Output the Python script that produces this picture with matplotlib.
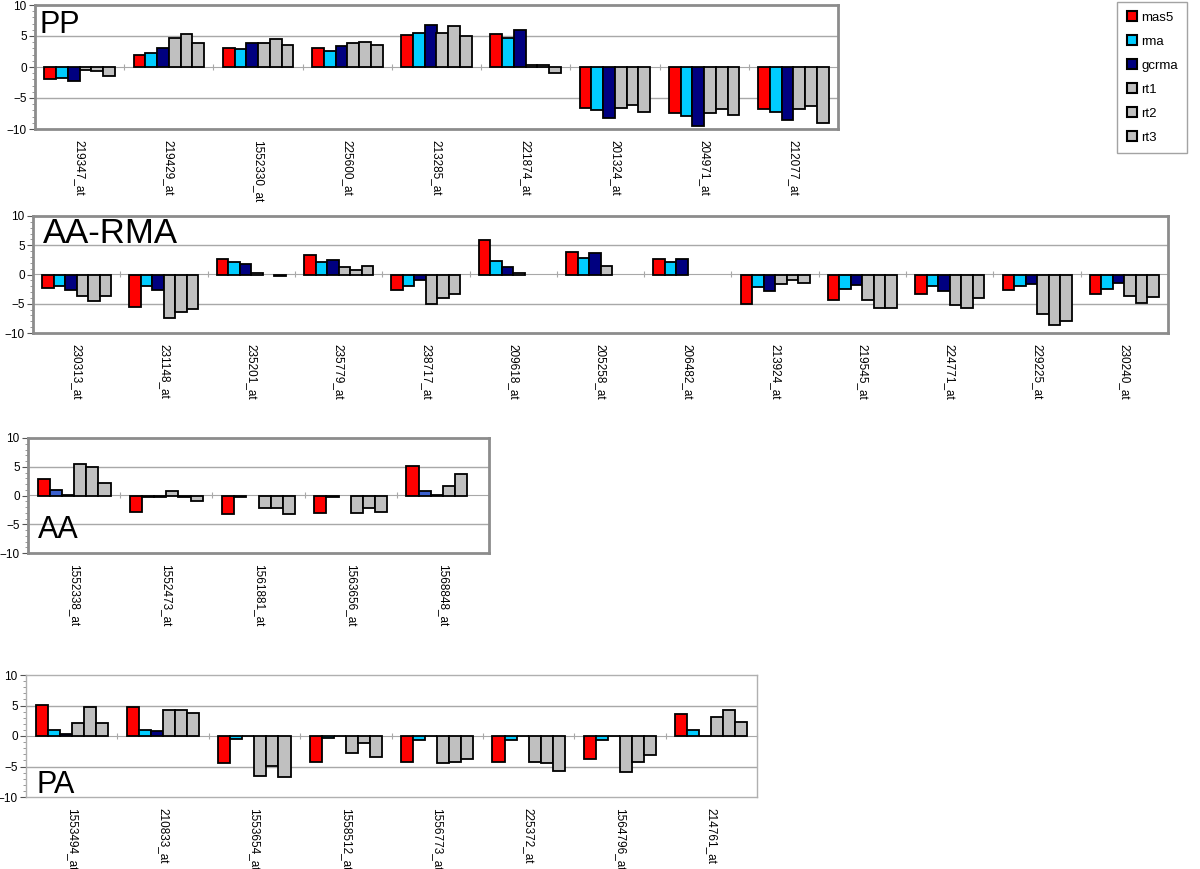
import numpy as np
import matplotlib.pyplot as plt
from matplotlib.patches import Patch
from matplotlib.ticker import MultipleLocator

plt.rcParams['font.family'] = ['Liberation Sans', 'DejaVu Sans']

nan = np.nan
series = ['mas5', 'rma', 'gcrma', 'rt1', 'rt2', 'rt3']
colors = ['#ff0000', '#00ccff', '#000080', '#c0c0c0', '#c0c0c0', '#c0c0c0']

# PP
pp_genes = ['219347_at', '219429_at', '1552330_at', '225600_at', '213285_at',
            '221874_at', '201324_at', '204971_at', '212077_at']
pp_vals = [
    [-2.0, 2.0, 3.0, 3.0, 5.2, 5.3, -6.6, -7.4, -6.8],   # mas5
    [-1.8, 2.2, 2.9, 2.6, 5.5, 4.7, -7.0, -7.9, -7.3],   # rma
    [-2.3, 3.0, 3.9, 3.4, 6.8, 5.9, -8.3, -9.5, -8.5],   # gcrma
    [-0.5, 4.7, 3.9, 3.8, 5.5, 0.25, -6.6, -7.4, -6.7],  # rt1
    [-0.6, 5.3, 4.5, 4.1, 6.6, 0.35, -6.1, -6.8, -6.3],  # rt2
    [-1.5, 3.9, 3.6, 3.6, 5.0, -0.9, -7.2, -7.8, -9.0],  # rt3
]

# AA-RMA
aarma_genes = ['230313_at', '231148_at', '235201_at', '235779_at', '238717_at',
               '209618_at', '205258_at', '206482_at', '213924_at', '219545_at',
               '224771_at', '229225_at', '230240_at']
aarma_vals = [
    [-2.3, -5.6, 2.6, 3.4, -2.7, 5.9, 3.9, 2.6, -5.0, -4.3, -3.3, -2.6, -3.3],
    [-2.0, -2.0, 2.1, 2.1, -1.9, 2.3, 2.9, 2.1, -2.1, -2.4, -2.0, -2.0, -2.4],
    [-2.6, -2.6, 1.8, 2.4, -1.0, 1.3, 3.7, 2.7, -2.8, -1.8, -2.8, -1.7, -1.4],
    [-3.6, -7.4, 0.2, 1.2, -5.1, 0.2, 1.4, nan, -1.6, -4.3, -5.2, -6.8, -3.7],
    [-4.5, -6.4, nan, 0.7, -4.0, nan, nan, nan, -1.0, -5.7, -5.7, -8.6, -4.9],
    [-3.6, -5.9, -0.3, 1.4, -3.4, nan, nan, nan, -1.4, -5.7, -4.1, -8.0, -3.9],
]

# AA
aa_genes = ['1552338_at', '1552473_at', '1561881_at', '1563656_at', '1568848_at']
aa_vals = [
    [2.9, -2.8, -3.2, -3.1, 5.1],
    [0.9, -0.3, -0.2, -0.2, 0.7],
    [0.1, -0.2, nan, nan, 0.1],
    [5.5, 0.7, -2.2, -3.1, 1.7],
    [5.0, -0.3, -2.1, -2.1, 3.8],
    [2.2, -1.0, -3.3, -2.8, nan],
]

# PA
pa_genes = ['1553494_at', '210833_at', '1553654_at', '1558512_at', '1556773_at',
            '225372_at', '1564796_at', '214761_at']
pa_vals = [
    [5.1, 4.7, -4.5, -4.3, -4.2, -4.2, -3.8, 3.6],
    [1.0, 1.0, -0.5, -0.4, -0.7, -0.7, -0.6, 1.0],
    [0.4, 0.9, 0.0, 0.0, 0.0, 0.0, 0.0, 0.0],
    [2.1, 4.3, -6.6, -2.8, -4.5, -4.3, -5.9, 3.1],
    [4.8, 4.3, -4.9, -1.2, -4.2, -4.5, -4.3, 4.2],
    [2.1, 3.8, -6.8, -3.4, -3.8, -5.7, -3.1, 2.3],
]

W, H = 1200, 869
fig = plt.figure(figsize=(12, 8.69), dpi=100)


def px_rect(x0, y0, x1, y1):
    return [x0 / W, 1 - y1 / H, (x1 - x0) / W, (y1 - y0) / H]


def draw_panel(rect, genes, vals, title, tx, ty, tsize, thick=True, cols=colors):
    ax = fig.add_axes(rect)
    n = len(genes)
    x = np.arange(n)
    w = 0.79 / 6
    for i, row in enumerate(vals):
        row = np.array(row, dtype=float)
        ok = np.isfinite(row)
        ax.bar(x[ok] + (i - 2.5) * w, row[ok], w, color=cols[i],
               edgecolor='black', linewidth=1.3, zorder=3)
    ax.set_xlim(-0.5, n - 0.5)
    ax.set_ylim(-10, 10)
    ax.yaxis.set_major_locator(MultipleLocator(5))
    ax.yaxis.set_minor_locator(MultipleLocator(1))
    ax.tick_params(axis='y', which='major', length=4, labelsize=8.5, pad=2, color='#555555')
    ax.tick_params(axis='y', which='minor', length=2, color='#888888')
    for v in (5, -5):
        ax.axhline(v, color='#a8a8a8', lw=1, zorder=1)
    ax.set_xticks(x)
    ax.set_xticklabels(genes, rotation=270, fontsize=8.5)
    ax.tick_params(axis='x', length=0, pad=8)
    for s in ax.spines.values():
        s.set_color('#8c8c8c' if thick else '#b0b0b0')
        s.set_linewidth(2.0 if thick else 1.0)
    sec = ax.secondary_xaxis(0.5)
    sec.set_xticks(np.arange(n + 1) - 0.5)
    sec.tick_params(axis='x', length=4, color='#a8a8a8', direction='inout',
                    labelbottom=False, labeltop=False)
    sec.spines['bottom'].set_color('#a8a8a8')
    sec.spines['top'].set_color('#a8a8a8')
    ax.text(tx, ty, title, transform=ax.transAxes, fontsize=tsize,
            va='baseline', ha='left', zorder=5)
    return ax


draw_panel(px_rect(35, 5, 838, 129), pp_genes, pp_vals, 'PP', 0.006, 0.774, 22)
draw_panel(px_rect(33, 216, 1168, 333), aarma_genes, aarma_vals, 'AA-RMA', 0.009, 0.77, 25)
aa_cols = ['#ff0000', '#3a5fcd', '#000080', '#c0c0c0', '#c0c0c0', '#c0c0c0']
draw_panel(px_rect(28, 438, 489, 553), aa_genes, aa_vals, 'AA', 0.022, 0.13, 22, cols=aa_cols)
draw_panel(px_rect(26, 675, 757, 797), pa_genes, pa_vals, 'PA', 0.014, 0.033, 22, thick=False)

handles = [Patch(facecolor=c, edgecolor='black', linewidth=1.5) for c in colors]
leg = fig.legend(handles, series, loc='upper right', bbox_to_anchor=(1187 / W, 1 - 2 / H),
                 fontsize=9.5, frameon=True, fancybox=False, edgecolor='#8c8c8c',
                 handlelength=0.8, handleheight=0.8, handletextpad=0.3,
                 labelspacing=0.86, borderpad=0.7, borderaxespad=0)
leg.get_frame().set_linewidth(1.0)

fig.savefig('out.png', dpi=100, facecolor='white')
